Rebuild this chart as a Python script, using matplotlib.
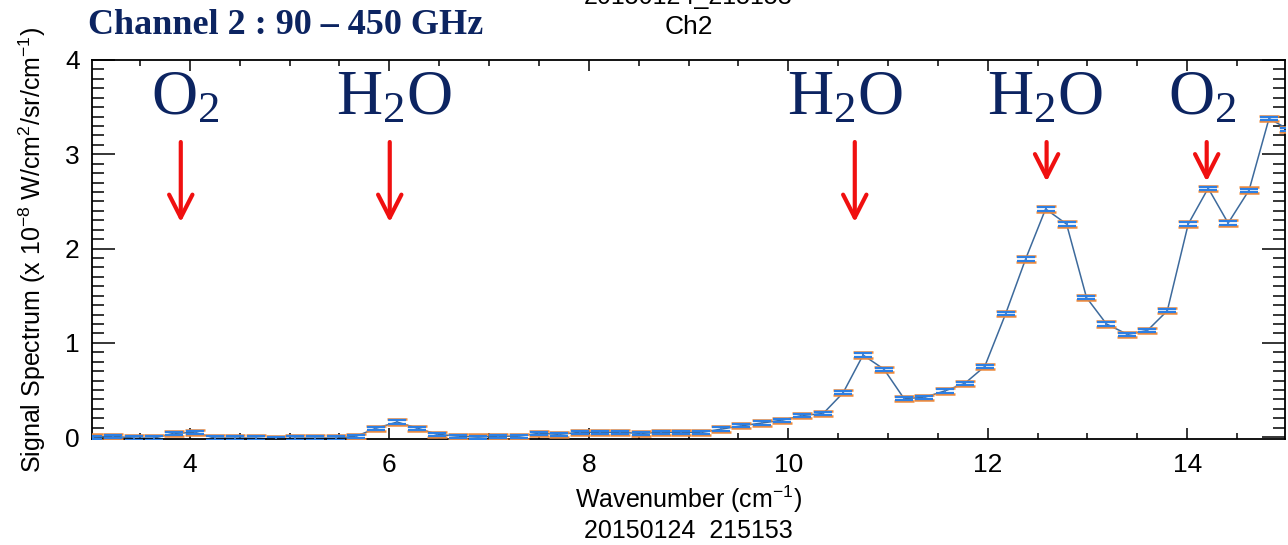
import matplotlib
matplotlib.use('Agg')
import matplotlib.pyplot as plt
from matplotlib.ticker import MultipleLocator

# Ch2 spectrum
wavenumber = [3.03, 3.23, 3.44, 3.64, 3.84, 4.05, 4.25, 4.45, 4.66, 4.86,
              5.06, 5.26, 5.47, 5.67, 5.87, 6.08, 6.28, 6.48, 6.69, 6.89,
              7.09, 7.30, 7.50, 7.70, 7.91, 8.11, 8.31, 8.52, 8.72, 8.92,
              9.13, 9.33, 9.53, 9.74, 9.94, 10.14, 10.35, 10.55, 10.75, 10.96,
              11.16, 11.36, 11.57, 11.77, 11.97, 12.18, 12.38, 12.58, 12.79, 12.99,
              13.19, 13.40, 13.60, 13.80, 14.01, 14.21, 14.41, 14.62, 14.82, 15.02]
signal = [0.00, 0.01, -0.01, -0.01, 0.04, 0.05, -0.01, -0.01, -0.01, -0.02,
          -0.01, -0.01, -0.01, 0.01, 0.095, 0.16, 0.095, 0.03, 0.01, 0.00,
          0.01, 0.01, 0.04, 0.03, 0.05, 0.05, 0.05, 0.04, 0.05, 0.05,
          0.05, 0.085, 0.12, 0.15, 0.18, 0.23, 0.25, 0.47, 0.87, 0.72,
          0.41, 0.42, 0.49, 0.57, 0.75, 1.31, 1.89, 2.42, 2.26, 1.48,
          1.20, 1.09, 1.13, 1.34, 2.26, 2.64, 2.27, 2.62, 3.38, 3.26]
err_outer = 0.028
err_inner = 0.017

# absorption line markers: label, x, arrow tail y, arrow tip y
lines_label = ['O$\\mathregular{_2}$', 'H$\\mathregular{_2}$O', 'H$\\mathregular{_2}$O',
               'H$\\mathregular{_2}$O', 'O$\\mathregular{_2}$']
lines_text_x = [3.96, 6.05, 10.57, 12.57, 14.15]
lines_arrow_x = [3.91, 6.005, 10.667, 12.59, 14.195]
arrow_tail = [3.13, 3.13, 3.13, 3.13, 3.13]
arrow_tip = [2.28, 2.28, 2.28, 2.71, 2.71]

sans = ['Liberation Sans', 'DejaVu Sans']
serif = ['Liberation Serif', 'DejaVu Serif']
navy = '#0c2461'

plt.rcParams['font.family'] = sans

fig = plt.figure(figsize=(12.88, 5.45), dpi=100)
W, H = 1288, 545
ax = fig.add_axes([92 / W, 1 - 439 / H, (1285 - 92) / W, (439 - 60) / H])

ax.plot(wavenumber, signal, color='#3d6a9c', lw=1.1, zorder=2)
ax.errorbar(wavenumber, signal, yerr=err_outer, fmt='none', ecolor='#ee8a3c',
            elinewidth=1.2, capsize=7, capthick=1.8, zorder=3)
ax.errorbar(wavenumber, signal, yerr=err_inner, fmt='none', ecolor='#2d7fe3',
            elinewidth=1.2, capsize=6.5, capthick=1.6, zorder=4)

ax.set_xlim(3.02, 14.98)
ax.set_ylim(-0.02, 4.0)
ax.xaxis.set_major_locator(MultipleLocator(2))
ax.xaxis.set_minor_locator(MultipleLocator(0.5))
ax.yaxis.set_major_locator(MultipleLocator(1))
ax.yaxis.set_minor_locator(MultipleLocator(0.1))
ax.tick_params(direction='in', top=True, right=True, which='both', width=1.1, labelsize=19)
ax.tick_params(axis='x', which='major', length=8, pad=10)
ax.tick_params(axis='x', which='minor', length=4.5)
ax.tick_params(axis='y', which='major', length=16.5, pad=9)
ax.tick_params(axis='y', which='minor', length=8.5)
for s in ax.spines.values():
    s.set_linewidth(1.3)

ax.set_title('Ch2', fontsize=19, pad=19)
ax.set_xlabel('Wavenumber (cm$\\mathregular{^{-1}}$)', fontsize=18, labelpad=5)
ax.set_ylabel('Signal Spectrum (x 10$\\mathregular{^{-8}}$ W/cm$\\mathregular{^{2}}$/sr/cm$\\mathregular{^{-1}}$)',
              fontsize=18, labelpad=12)
fig.text(688 / W, 1 - 531 / H, '20150124  215153', fontsize=18, ha='center', va='center')
# run stamp above the title, cut off by the top edge as in the source
fig.text(688 / W, 1 - 4 / H, '20150124_215153', fontsize=18, ha='center', va='baseline')

fig.text(88 / W, 1 - 25 / H, 'Channel 2 : 90 \u2013 450 GHz', family=serif, fontweight='bold',
         fontsize=26, color=navy, ha='left', va='center')

for lab, tx, axx, y0, y1 in zip(lines_label, lines_text_x, lines_arrow_x, arrow_tail, arrow_tip):
    ax.text(tx, 3.42, lab, family=serif, fontsize=46, color=navy, ha='center', va='baseline')
    ax.annotate('', xy=(axx, y1), xytext=(axx, y0),
                arrowprops=dict(arrowstyle='->,head_length=0.55,head_width=0.28',
                                color='#f01010', lw=3, mutation_scale=30,
                                shrinkA=0, shrinkB=0))

fig.savefig('out.png', dpi=100)
